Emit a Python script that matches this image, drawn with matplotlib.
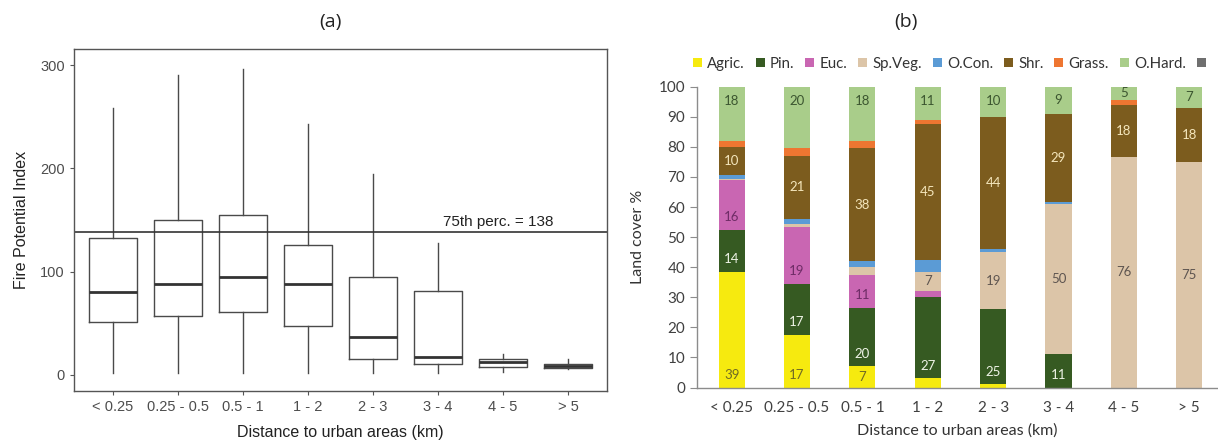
import numpy as np
import matplotlib
matplotlib.use("Agg")
import matplotlib.pyplot as plt
from matplotlib.patches import Patch

# categories (shared by both panels)
bins = ["< 0.25", "0.25 - 0.5", "0.5 - 1", "1 - 2", "2 - 3", "3 - 4", "4 - 5", "> 5"]

# (a) box plot stats of Fire Potential Index
fpi_low = [1.6, 1.6, 2, 1.6, 1.6, 1.6, 3, 5.5]
fpi_q1 = [51, 57.4, 61, 47.7, 15.2, 10.3, 7.7, 6.8]
fpi_med = [80, 88.4, 94.8, 87.7, 36.8, 17.7, 12.3, 8.4]
fpi_q3 = [133, 150, 155, 125.5, 94.8, 81.3, 15.8, 10.3]
fpi_high = [258, 290, 296.5, 242.6, 195, 127.4, 20.3, 15.2]
p75 = 138

# (b) land cover %
cover_names = ["Agric.", "Pin.", "Euc.", "Sp.Veg.", "O.Con.", "Shr.", "Grass.", "O.Hard.", ""]
agric = [38.5, 17.5, 7, 3, 1, 0, 0, 0]
pin = [14, 17, 19.5, 27, 25, 11, 0, 0]
euc = [16.5, 19, 11, 2, 0, 0, 0, 0]
spveg = [0.3, 1, 2.5, 6.5, 19, 50, 76.5, 75]
ocon = [1.2, 1.5, 2, 4, 1, 0.8, 0, 0]
shr = [9.5, 21, 37.5, 45, 44, 29.2, 17.5, 18]
grass = [2, 2.5, 2.5, 1.5, 0, 0, 1.5, 0]
ohard = [18, 20.5, 18, 11, 10, 9, 4.5, 7]
other = [0, 0, 0, 0, 0, 0, 0, 0]

# numbers printed on the bars
agric_lab = [39, 17, 7, None, None, None, None, None]
pin_lab = [14, 17, 20, 27, 25, 11, None, None]
euc_lab = [16, 19, 11, None, None, None, None, None]
spveg_lab = [None, None, None, 7, 19, 50, 76, 75]
shr_lab = [10, 21, 38, 45, 44, 29, 18, 18]
ohard_lab = [18, 20, 18, 11, 10, 9, 5, 7]

series = [agric, pin, euc, spveg, ocon, shr, grass, ohard, other]
labels = [agric_lab, pin_lab, euc_lab, spveg_lab, None, shr_lab, None, ohard_lab, None]
colors = ["#f6ea0f", "#365a22", "#c966b2", "#dcc5a8", "#5b9bd5",
          "#7c5c1e", "#ee7631", "#a9cd8a", "#6f6f6f"]
lab_colors = ["#6f6a25", "#eef3e6", "#6e2c66", "#5e5550", None,
              "#f4e6bc", None, "#3c5630", None]
lab_mode = ["base", "base", "base", "center", None, "center", None, "end", None]

fig = plt.figure(figsize=(12.18, 4.46), dpi=100)

# ---------------- panel (a) ----------------
ax1 = fig.add_axes([74/1218, 55/446, 533/1218, 342/446])
stats = []
for i in range(len(bins)):
    stats.append(dict(whislo=fpi_low[i], q1=fpi_q1[i], med=fpi_med[i],
                      q3=fpi_q3[i], whishi=fpi_high[i], fliers=[]))
pos = np.arange(1, len(bins) + 1)
ax1.bxp(stats, positions=pos, widths=0.75, showcaps=False, showfliers=False,
        boxprops=dict(color="#4a4a4a", linewidth=1.0),
        whiskerprops=dict(color="#4a4a4a", linewidth=1.0),
        medianprops=dict(color="#333333", linewidth=2.0))
ax1.axhline(p75, color="#333333", linewidth=1.2)
ax1.text(6.08, p75 + 3, "75th perc. = 138", fontsize=11, family="Liberation Sans",
         color="#222222", va="bottom")
ax1.set_xlim(0.4, 8.6)
ax1.set_ylim(-15.5, 315.5)
ax1.set_xticks(pos)
ax1.set_xticklabels(bins)
ax1.set_yticks([0, 100, 200, 300])
for s in ax1.spines.values():
    s.set_color("#555555")
    s.set_linewidth(1.0)
ax1.tick_params(colors="#555555", labelcolor="#4d4d4d", labelsize=10.5, length=3)
for t in ax1.get_xticklabels() + ax1.get_yticklabels():
    t.set_family("Liberation Sans")
ax1.set_xlabel("Distance to urban areas (km)", fontsize=11.5, family="Liberation Sans",
               color="#222222", labelpad=8)
ax1.set_ylabel("Fire Potential Index", fontsize=11.5, family="Liberation Sans",
               color="#222222", labelpad=8)

# ---------------- panel (b) ----------------
ax2 = fig.add_axes([697/1218, 58.5/446, 521/1218, 300.8/446])
bottom = np.zeros(len(bins))
for k, vals in enumerate(series):
    vals = np.array(vals, dtype=float)
    ax2.bar(pos, vals, width=0.4, bottom=bottom, color=colors[k], linewidth=0)
    if labels[k] is not None:
        for i, lab in enumerate(labels[k]):
            if lab is None:
                continue
            h = vals[i]
            if lab_mode[k] == "base":
                y = bottom[i] + min(4.2, h / 2)
            elif lab_mode[k] == "end":
                y = bottom[i] + h - min(4.8, h / 2)
            else:
                y = bottom[i] + h / 2
            ax2.text(pos[i], y, str(lab), ha="center", va="center", fontsize=9.5,
                     family="Lato", color=lab_colors[k])
    bottom += vals

ax2.set_xlim(0.47, 8.44)
ax2.set_ylim(0, 100)
ax2.set_yticks(np.arange(0, 101, 10))
ax2.set_xticks(pos)
ax2.set_xticklabels(bins)
for side in ["top", "right"]:
    ax2.spines[side].set_visible(False)
ax2.spines["left"].set_color("#8c8c8c")
ax2.spines["bottom"].set_color("#8c8c8c")
ax2.spines["left"].set_linewidth(1.0)
ax2.spines["bottom"].set_linewidth(1.0)
ax2.tick_params(axis="y", colors="#8c8c8c", labelcolor="#404040", labelsize=11, length=5)
ax2.tick_params(axis="x", length=0, labelcolor="#404040", labelsize=11, pad=10)
for t in ax2.get_xticklabels() + ax2.get_yticklabels():
    t.set_family("Lato")
ax2.set_xlabel("Distance to urban areas (km)", fontsize=11.5, family="Lato",
               color="#333333", labelpad=6)
ax2.set_ylabel("Land cover %", fontsize=11.5, family="Lato", color="#333333", labelpad=10)

handles = [Patch(facecolor=c, edgecolor="none") for c in colors]
fig.legend(handles, cover_names, loc="center left", bbox_to_anchor=(693/1218, 1 - 64/446),
           ncol=9, frameon=False, prop=dict(family="Lato", size=10.8),
           handlelength=0.6, handleheight=0.6, handletextpad=0.35, columnspacing=0.72,
           borderaxespad=0, borderpad=0, labelcolor="#333333")

fig.text(330/1218, 1 - 22/446, "(a)", ha="center", va="center", fontsize=14,
         family="Open Sans", color="#222222")
fig.text(906/1218, 1 - 22/446, "(b)", ha="center", va="center", fontsize=14,
         family="Open Sans", color="#222222")

fig.savefig("out.png", dpi=100)
